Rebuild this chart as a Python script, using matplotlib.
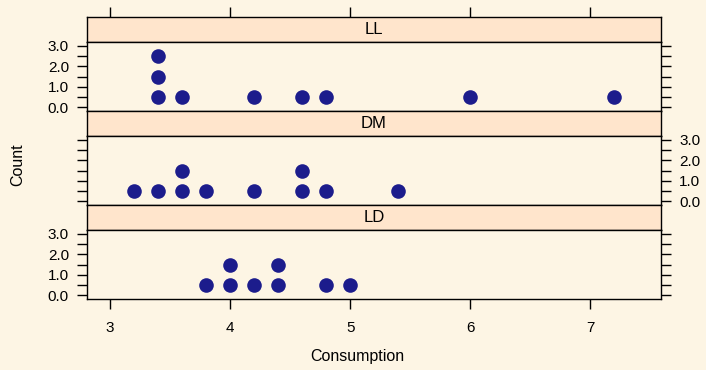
import matplotlib
matplotlib.use('Agg')
import matplotlib.pyplot as plt
from matplotlib.ticker import MultipleLocator

plt.rcParams['font.family'] = ['Liberation Sans', 'DejaVu Sans']

panels = ['LL', 'DM', 'LD']
ll_consumption = [3.4, 3.4, 3.4, 3.6, 4.2, 4.6, 4.8, 6.0, 7.2]
dm_consumption = [3.2, 3.4, 3.6, 3.6, 3.8, 4.2, 4.6, 4.6, 4.8, 5.4]
ld_consumption = [3.8, 4.0, 4.0, 4.2, 4.4, 4.4, 4.8, 5.0]
x_ticks = [3, 4, 5, 6, 7]
y_ticks = [0.0, 1.0, 2.0, 3.0]
data = {'LL': ll_consumption, 'DM': dm_consumption, 'LD': ld_consumption}

BG = '#FDF5E4'
STRIP = '#FFE5CC'
DOT = '#1C1C8C'
W, H = 706, 370
fig = plt.figure(figsize=(W / 100, H / 100), dpi=100, facecolor=BG)

left, right = 87, 661
tops = {'LL': 17, 'DM': 111, 'LD': 205}
strip_h, panel_h = 25, 69
xlim = (2.808, 7.59)
ylim = (-0.18, 3.18)

def fx(px):
    return px / W

def fy(py):
    return 1 - py / H

for name in panels:
    t = tops[name]
    sax = fig.add_axes([fx(left), fy(t + strip_h), fx(right - left), strip_h / H])
    sax.set_facecolor(STRIP)
    sax.set_xlim(*xlim)
    sax.set_ylim(0, 1)
    sax.set_yticks([])
    sax.text(0.5, 0.5, name, transform=sax.transAxes, ha='center', va='center', fontsize=12)
    if name == 'LL':
        sax.set_xticks(x_ticks)
        sax.xaxis.tick_top()
        sax.tick_params(axis='x', length=7, width=1, labeltop=False, direction='out')
    else:
        sax.set_xticks([])
    for s in sax.spines.values():
        s.set_linewidth(1)

    ax = fig.add_axes([fx(left), fy(t + strip_h + panel_h), fx(right - left), panel_h / H])
    ax.set_facecolor(BG)
    ax.set_xlim(*xlim)
    ax.set_ylim(*ylim)
    counts = {}
    xs, ys = [], []
    for v in data[name]:
        k = counts.get(v, 0)
        counts[v] = k + 1
        xs.append(v)
        ys.append(k + 0.5)
    ax.plot(xs, ys, 'o', color=DOT, markersize=10.5, markeredgewidth=0, clip_on=False)
    ax.set_yticks(y_ticks)
    ax.set_yticklabels([f'{v:.1f}' for v in y_ticks])
    ax.yaxis.set_minor_locator(MultipleLocator(0.5))
    labels_left = name != 'DM'
    ax.tick_params(axis='y', which='both', left=True, right=True, length=7, width=1,
                   labelleft=labels_left, labelright=not labels_left, labelsize=11, pad=6)
    if name == 'LD':
        ax.set_xticks(x_ticks)
        ax.tick_params(axis='x', length=7.5, width=1, labelsize=11, pad=8)
    else:
        ax.set_xticks([])
    for s in ax.spines.values():
        s.set_linewidth(1)

fig.text(fx(18), fy(165), 'Count', rotation=90, ha='center', va='center', fontsize=11.5)
fig.text(fx(357), fy(357), 'Consumption', ha='center', va='center', fontsize=11.5)

fig.savefig('out.png', dpi=100, facecolor=BG)
